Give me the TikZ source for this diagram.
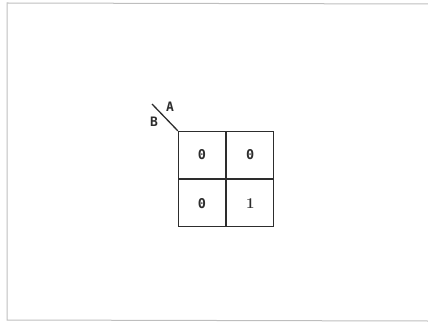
\documentclass[tikz,border=0pt]{standalone}
\usepackage{fontspec}
\newfontfamily\monofont{DejaVu Sans Mono}
\usepackage{xcolor}
\definecolor{inkgray}{RGB}{45,45,45}
\definecolor{framegray}{RGB}{190,190,190}
\usetikzlibrary{positioning}

\begin{document}
\begin{tikzpicture}[
  x=1pt, y=-1pt,
  cell/.style={rectangle, draw=inkgray, line width=1.3pt, minimum size=47pt,
               inner sep=0pt, text=inkgray, font=\fontsize{13.5}{14}\selectfont\monofont\bfseries},
  onecell/.style={cell, font=\fontsize{15}{16}\selectfont\rmfamily\bfseries},
  var/.style={text=inkgray, font=\fontsize{13}{14}\selectfont\monofont\bfseries}
]
  \useasboundingbox (0,0) rectangle (428,323);
  % page frame
  \draw[framegray, line width=1pt] (428,4) -- (7,3) -- (7,320) -- (428,321);
  % map cells
  \node[cell] (c00) at (202,155) {0};
  \node[cell, right=0pt of c00] (c01) {0};
  \node[cell, below=0pt of c00] (c10) {0};
  \node[onecell, right=0pt of c10] (c11) {1};
  % corner labels
  \coordinate (tip) at (152,104);
  \draw[inkgray, line width=1.3pt] (tip) -- (c00.north west);
  \node[var] (la) at (170,107) {A};
  \node[var] (lb) at (154,122) {B};
\end{tikzpicture}
\end{document}
